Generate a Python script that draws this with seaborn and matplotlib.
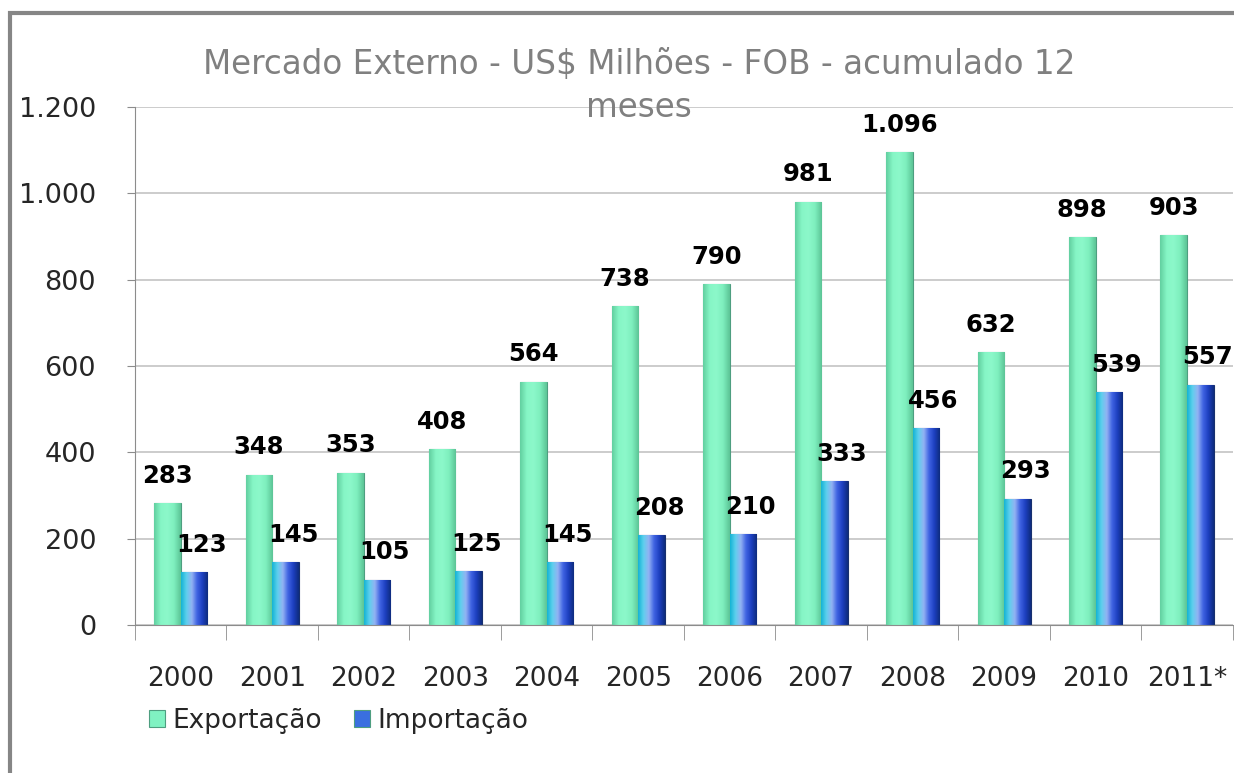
import numpy as np
import pandas as pd
import seaborn as sns
import matplotlib.pyplot as plt
from matplotlib.colors import LinearSegmentedColormap
from matplotlib.patches import Rectangle
from matplotlib.ticker import FuncFormatter

years = ['2000', '2001', '2002', '2003', '2004', '2005',
         '2006', '2007', '2008', '2009', '2010', '2011*']
exportacao = [283, 348, 353, 408, 564, 738, 790, 981, 1096, 632, 898, 903]
importacao = [123, 145, 105, 125, 145, 208, 210, 333, 456, 293, 539, 557]
series = ['Exportação', 'Importação']
title_lines = ['Mercado Externo - US$ Milhões - FOB - acumulado 12', 'meses']


def fmt_br(v, pos=None):
    # thousands separator as dot
    return f'{int(v):,}'.replace(',', '.')


df = pd.DataFrame({'Ano': years * 2,
                   'Valor': exportacao + importacao,
                   'Serie': [series[0]] * len(years) + [series[1]] * len(years)})

sns.set_style('white')
plt.rcParams['font.family'] = ['DejaVu Sans']

fig = plt.figure(figsize=(12.34, 7.73), dpi=100)
ax = fig.add_axes([0.1094, 0.1915, 0.8896, 0.67])

sns.barplot(data=df, x='Ano', y='Valor', hue='Serie', ax=ax, width=0.58,
            palette=['#80F2C2', '#3A6FE0'], saturation=1, gap=0,
            edgecolor='#4E9E80', linewidth=0.8)

handles, labels = ax.get_legend_handles_labels()
ax.get_legend().remove()

# cylinder-like gradients clipped to each bar
cmaps = [LinearSegmentedColormap.from_list('g', ['#62CFA0', '#86F6C6', '#8CF8CA', '#7EEFBE', '#5CC496']),
         LinearSegmentedColormap.from_list('b', ['#14B4D4', '#5FD0EE', '#93B2F3', '#3F63E2', '#1D3FC0', '#0E2C7E'])]
grad = np.linspace(0, 1, 64).reshape(1, -1)
for cont, cm, ecol in zip(ax.containers, cmaps, ['#4E9E80', '#17306E']):
    for p in cont.patches:
        p.set_edgecolor(ecol)
        x0, y0 = p.get_x(), p.get_y()
        im = ax.imshow(grad, cmap=cm, extent=(x0, x0 + p.get_width(), y0, y0 + p.get_height()),
                       aspect='auto', zorder=p.get_zorder() + 0.1, interpolation='bicubic')
        im.set_clip_path(p)

# value labels
for cont, dx in zip(ax.containers, [0, 5.5]):
    for p, v in zip(cont.patches, cont.datavalues):
        ax.annotate(fmt_br(v), (p.get_x() + p.get_width() / 2, p.get_height()),
                    xytext=(dx, 11), textcoords='offset points', ha='center', va='bottom',
                    fontsize=17.5, fontweight='bold', color='black', zorder=5)

ax.set_xlim(-0.5, len(years) - 0.5)
ax.set_ylim(0, 1200)
ax.set_yticks(range(0, 1201, 200))
ax.yaxis.set_major_formatter(FuncFormatter(fmt_br))
ax.set_xticks(range(len(years)))
ax.set_xticks(np.arange(-0.5, len(years), 1), minor=True)
ax.set_xticklabels(years)
ax.set_xlabel('')
ax.set_ylabel('')
ax.grid(axis='y', color='#C4C4C4', linewidth=1.2)
ax.set_axisbelow(True)
for s in ['top', 'right']:
    ax.spines[s].set_visible(False)
ax.spines['left'].set_color('#8C8C8C')
ax.spines['bottom'].set_color('#8C8C8C')
ax.tick_params(axis='y', left=True, length=6, color='#8C8C8C', pad=22, labelsize=19.5)
ax.tick_params(axis='x', which='major', bottom=False, pad=26, labelsize=19)
ax.tick_params(axis='x', which='minor', bottom=True, length=11, color='#8C8C8C')

for yy, line in zip([0.916, 0.861], title_lines):
    fig.text(0.518, yy, line, ha='center', va='center', fontsize=23.5, color='#808080')

fig.legend(handles, labels, loc='upper left', bbox_to_anchor=(0.112, 0.098),
           ncol=2, frameon=False, fontsize=19, handlelength=0.6, handleheight=0.6,
           handletextpad=0.3, columnspacing=1.2, borderaxespad=0)

# outer border
fig.patches.append(Rectangle((0.008, -0.05), 1.2, 1.033, transform=fig.transFigure,
                             fill=False, edgecolor='#868686', linewidth=3))

fig.savefig('out.png', dpi=100)
